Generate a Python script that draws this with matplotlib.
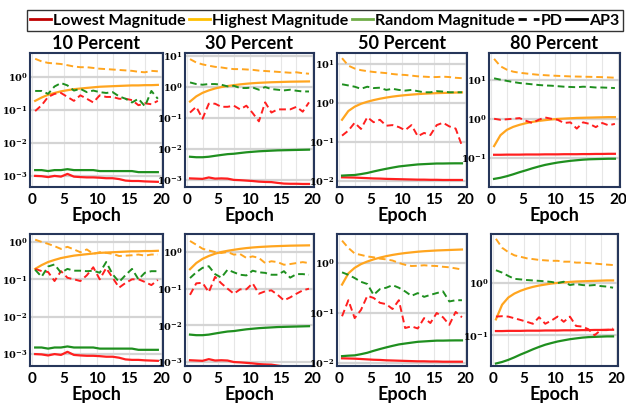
import matplotlib
matplotlib.use("Agg")
import matplotlib.pyplot as plt
from matplotlib.lines import Line2D
from matplotlib.ticker import FuncFormatter, LogLocator, MultipleLocator, NullFormatter
import numpy as np

plt.rcParams['font.family'] = ['Lato', 'DejaVu Sans']
plt.rcParams['mathtext.fontset'] = 'dejavuserif'

epochs = [0.5 + i for i in range(20)]
titles = ["10 Percent", "30 Percent", "50 Percent", "80 Percent"]

# ---- AP3 (solid) : shared by both rows ----
low_ap3_10 = [0.001, 0.00098, 0.00092, 0.001, 0.00095, 0.00115, 0.00095, 0.00092, 0.0009, 0.0009,
              0.00088, 0.00085, 0.00085, 0.0008, 0.00072, 0.0007, 0.0007, 0.00068, 0.00067, 0.00066]
high_ap3_10 = [0.19, 0.24, 0.29, 0.33, 0.37, 0.40, 0.43, 0.45, 0.47, 0.49,
               0.51, 0.52, 0.53, 0.54, 0.55, 0.56, 0.56, 0.57, 0.57, 0.58]
rand_ap3_10 = [0.0015, 0.0015, 0.0014, 0.0015, 0.0015, 0.0016, 0.0015, 0.0015, 0.0015, 0.0015,
               0.0014, 0.0014, 0.0014, 0.0014, 0.0014, 0.0014, 0.0013, 0.0013, 0.0013, 0.0013]

low_ap3_30 = [0.00112, 0.0011, 0.00108, 0.0012, 0.0011, 0.00112, 0.0011, 0.001, 0.00098, 0.00095,
              0.00092, 0.00088, 0.00086, 0.00085, 0.0008, 0.00076, 0.00075, 0.00075, 0.00074, 0.00074]
high_ap3_30 = [0.34, 0.5, 0.65, 0.78, 0.9, 1.0, 1.08, 1.15, 1.22, 1.28,
               1.33, 1.37, 1.40, 1.43, 1.45, 1.47, 1.49, 1.50, 1.51, 1.52]
rand_ap3_30 = [0.0056, 0.0054, 0.0054, 0.0056, 0.006, 0.0064, 0.0068, 0.007, 0.0074, 0.0078,
               0.0081, 0.0084, 0.0086, 0.0088, 0.009, 0.0091, 0.0092, 0.0093, 0.0094, 0.0095]

low_ap3_50 = [0.0124, 0.0123, 0.0122, 0.012, 0.0118, 0.0116, 0.0115, 0.0113, 0.0112, 0.0111,
              0.011, 0.0109, 0.0108, 0.0108, 0.0107, 0.0107, 0.0106, 0.0106, 0.0106, 0.0106]
high_ap3_50 = [0.37, 0.62, 0.8, 0.95, 1.07, 1.18, 1.28, 1.37, 1.45, 1.52,
               1.58, 1.63, 1.68, 1.72, 1.75, 1.78, 1.8, 1.82, 1.84, 1.86]
rand_ap3_50 = [0.0137, 0.014, 0.0142, 0.015, 0.016, 0.0175, 0.019, 0.0205, 0.022, 0.0235,
               0.0245, 0.0255, 0.0265, 0.027, 0.0275, 0.028, 0.028, 0.0282, 0.0283, 0.0283]

low_ap3_80 = [0.12, 0.12, 0.121, 0.121, 0.121, 0.122, 0.122, 0.122, 0.123, 0.123,
              0.123, 0.124, 0.124, 0.124, 0.125, 0.125, 0.126, 0.126, 0.127, 0.127]
high_ap3_80 = [0.2, 0.38, 0.52, 0.62, 0.7, 0.77, 0.83, 0.88, 0.92, 0.96,
               0.99, 1.01, 1.03, 1.05, 1.06, 1.07, 1.08, 1.09, 1.1, 1.1]
rand_ap3_80 = [0.029, 0.031, 0.034, 0.038, 0.043, 0.048, 0.054, 0.06, 0.066, 0.071,
               0.076, 0.08, 0.084, 0.087, 0.09, 0.092, 0.093, 0.094, 0.095, 0.095]

# ---- PD (dashed), top row ----
low_pd_top_10 = [0.093, 0.14, 0.25, 0.31, 0.33, 0.25, 0.19, 0.28, 0.22, 0.17,
                 0.28, 0.25, 0.25, 0.22, 0.22, 0.2, 0.14, 0.16, 0.15, 0.19]
high_pd_top_10 = [3.6, 3.0, 2.7, 2.6, 2.5, 2.3, 2.1, 2.0, 2.0, 1.9,
                  1.8, 1.75, 1.7, 1.65, 1.6, 1.55, 1.45, 1.4, 1.55, 1.5]
rand_pd_top_10 = [0.38, 0.38, 0.31, 0.52, 0.66, 0.56, 0.39, 0.44, 0.35, 0.39,
                  0.35, 0.33, 0.35, 0.26, 0.22, 0.17, 0.22, 0.13, 0.38, 0.22]

low_pd_top_30 = [0.15, 0.23, 0.095, 0.29, 0.29, 0.23, 0.23, 0.25, 0.19, 0.25,
                 0.145, 0.078, 0.32, 0.15, 0.19, 0.19, 0.19, 0.23, 0.16, 0.32]
high_pd_top_30 = [8.0, 6.2, 5.4, 4.9, 4.5, 4.3, 4.0, 3.8, 3.8, 3.7,
                  3.6, 3.4, 3.3, 3.2, 3.1, 3.0, 2.9, 3.0, 2.8, 2.7]
rand_pd_top_30 = [1.41, 1.25, 1.19, 1.25, 1.25, 1.19, 1.05, 1.1, 0.93, 0.93,
                  0.97, 0.82, 1.0, 0.86, 0.82, 0.78, 0.82, 0.76, 0.72, 0.72]

low_pd_top_50 = [0.145, 0.195, 0.31, 0.215, 0.43, 0.32, 0.37, 0.26, 0.27, 0.24,
                 0.2, 0.27, 0.14, 0.17, 0.15, 0.27, 0.31, 0.25, 0.22, 0.08]
high_pd_top_50 = [14, 9.0, 7.6, 6.9, 6.5, 6.2, 6.0, 5.8, 5.5, 5.3,
                  5.2, 5.0, 4.8, 4.7, 4.6, 4.6, 4.7, 4.6, 4.4, 4.3]
rand_pd_top_50 = [3.0, 2.8, 2.6, 2.3, 2.6, 2.4, 2.45, 2.15, 2.3, 2.15,
                  2.07, 2.15, 2.0, 1.87, 1.87, 2.0, 1.95, 1.87, 1.87, 1.87]

low_pd_top_80 = [1.0, 0.94, 0.97, 1.0, 1.04, 0.89, 0.78, 0.94, 1.08, 1.0,
                 0.94, 0.78, 0.81, 0.56, 0.81, 0.74, 0.61, 0.78, 0.68, 0.74]
high_pd_top_80 = [34, 22, 18, 16, 15, 14.4, 13.8, 13.3, 13.0, 12.7,
                  12.5, 12.3, 12.1, 12.0, 11.9, 11.8, 11.7, 11.6, 11.4, 11.2]
rand_pd_top_80 = [10.8, 10.0, 9.3, 8.7, 8.2, 7.9, 7.6, 7.3, 7.1, 7.0,
                  6.8, 6.6, 6.5, 6.4, 6.6, 6.5, 6.3, 6.3, 6.2, 6.1]

# ---- PD (dashed), bottom row ----
low_pd_bot_10 = [0.19, 0.166, 0.157, 0.09, 0.166, 0.11, 0.1, 0.09, 0.128, 0.21,
                 0.1, 0.2, 0.11, 0.06, 0.08, 0.1, 0.1, 0.085, 0.07, 0.096]
high_pd_bot_10 = [1.15, 1.0, 0.89, 0.77, 0.65, 0.74, 0.63, 0.53, 0.63, 0.48,
                  0.53, 0.51, 0.48, 0.42, 0.43, 0.44, 0.46, 0.43, 0.46, 0.46]
rand_pd_bot_10 = [0.18, 0.117, 0.22, 0.25, 0.15, 0.19, 0.17, 0.17, 0.165, 0.17,
                  0.15, 0.29, 0.136, 0.085, 0.13, 0.19, 0.1, 0.15, 0.165, 0.165]

low_pd_bot_30 = [0.068, 0.14, 0.145, 0.08, 0.21, 0.14, 0.1, 0.073, 0.096, 0.096,
                 0.14, 0.073, 0.085, 0.09, 0.068, 0.048, 0.058, 0.073, 0.09, 0.1]
high_pd_bot_30 = [2.0, 1.58, 1.23, 1.1, 1.0, 0.94, 1.0, 0.85, 0.88, 0.69,
                  0.76, 0.69, 0.5, 0.56, 0.53, 0.45, 0.47, 0.5, 0.53, 0.5]
rand_pd_bot_30 = [0.195, 0.28, 0.37, 0.41, 0.25, 0.2, 0.33, 0.28, 0.24, 0.23,
                  0.31, 0.28, 0.27, 0.24, 0.24, 0.3, 0.2, 0.25, 0.25, 0.24]

low_pd_bot_50 = [0.086, 0.18, 0.079, 0.115, 0.22, 0.2, 0.16, 0.15, 0.12, 0.18,
                 0.05, 0.054, 0.049, 0.079, 0.063, 0.1, 0.082, 0.058, 0.105, 0.082]
high_pd_bot_50 = [2.8, 2.0, 1.55, 1.45, 1.35, 1.3, 1.22, 1.18, 1.12, 1.0,
                  0.92, 0.87, 0.88, 0.9, 0.88, 0.87, 0.84, 0.82, 0.78, 0.74]
rand_pd_bot_50 = [0.65, 0.58, 0.5, 0.42, 0.38, 0.23, 0.3, 0.32, 0.36, 0.32,
                  0.27, 0.22, 0.25, 0.21, 0.23, 0.25, 0.27, 0.17, 0.18, 0.18]

low_pd_bot_80 = [0.226, 0.23, 0.226, 0.21, 0.195, 0.18, 0.165, 0.22, 0.165, 0.19,
                 0.226, 0.18, 0.226, 0.15, 0.146, 0.13, 0.1, 0.125, 0.125, 0.134]
high_pd_bot_80 = [6.8, 4.6, 3.8, 3.3, 3.1, 2.9, 2.8, 2.7, 2.65, 2.6,
                  2.6, 2.5, 2.5, 2.4, 2.4, 2.35, 2.3, 2.25, 2.2, 2.16]
rand_pd_bot_80 = [1.72, 1.55, 1.34, 1.18, 1.15, 1.12, 1.1, 1.08, 1.06, 1.03,
                  0.98, 1.04, 0.9, 0.94, 0.9, 0.88, 0.9, 0.86, 0.84, 0.8]

ap3 = [
    (low_ap3_10, high_ap3_10, rand_ap3_10),
    (low_ap3_30, high_ap3_30, rand_ap3_30),
    (low_ap3_50, high_ap3_50, rand_ap3_50),
    (low_ap3_80, high_ap3_80, rand_ap3_80),
]
pd_rows = [
    [(low_pd_top_10, high_pd_top_10, rand_pd_top_10),
     (low_pd_top_30, high_pd_top_30, rand_pd_top_30),
     (low_pd_top_50, high_pd_top_50, rand_pd_top_50),
     (low_pd_top_80, high_pd_top_80, rand_pd_top_80)],
    [(low_pd_bot_10, high_pd_bot_10, rand_pd_bot_10),
     (low_pd_bot_30, high_pd_bot_30, rand_pd_bot_30),
     (low_pd_bot_50, high_pd_bot_50, rand_pd_bot_50),
     (low_pd_bot_80, high_pd_bot_80, rand_pd_bot_80)],
]

ylims = [
    [(4.6e-4, 5.4), (5.9e-4, 12.6), (7.0e-3, 19), (0.018, 48)],
    [(4.8e-4, 1.63), (7.8e-4, 3.1), (8.7e-3, 3.8), (0.026, 8.4)],
]

W, H = 626, 405
col_x = [(30, 163), (185, 314), (337, 467), (489, 620)]
col_x_bot = [(30, 163), (185, 314), (337, 467), (491, 618)]
row_y = [(53, 187), (234, 366)]

colors = ['#ff1f1f', '#ffa51f', '#1f8f1f']
spine_col = '#26365a'

fig = plt.figure(figsize=(W / 100, H / 100), dpi=100)

for r in range(2):
    for c in range(4):
        x0, x1 = (col_x if r == 0 else col_x_bot)[c]
        y0, y1 = row_y[r]
        ax = fig.add_axes([x0 / W, 1 - y1 / H, (x1 - x0) / W, (y1 - y0) / H])
        ax.set_yscale('log')
        ax.set_xlim(-0.3, 20.3)
        ax.set_ylim(*ylims[r][c])
        ax.xaxis.set_major_locator(MultipleLocator(5))
        ax.xaxis.set_minor_locator(MultipleLocator(2.5))
        ax.yaxis.set_major_locator(LogLocator(base=10, numticks=10))
        ax.yaxis.set_minor_formatter(NullFormatter())
        ax.yaxis.set_major_formatter(FuncFormatter(lambda v, p: r'$\mathbf{10^{%d}}$' % round(np.log10(v))))
        ax.grid(True, which='major', axis='y', color='#d4d4d4', lw=1.6)
        ax.grid(True, which='both', axis='x', color='#e6e6e6', lw=0.8)
        ax.set_axisbelow(True)
        ax.tick_params(which='both', length=0)
        ax.tick_params(axis='x', labelsize=11, pad=4)
        ax.tick_params(axis='y', labelsize=7, pad=1.5)
        for lab in ax.get_xticklabels():
            lab.set_fontweight('bold')
        for s in ax.spines.values():
            s.set_color(spine_col)
            s.set_linewidth(1.5)

        for series, col in zip(ap3[c], colors):
            ax.plot(epochs, series, color=col, lw=1.6, ls='-')
        for series, col in zip(pd_rows[r][c], colors):
            ax.plot(epochs, series, color=col, lw=1.4, ls=(0, (3.5, 2)))

        ax.set_xlabel('Epoch', fontsize=13, fontweight='bold', labelpad=0)
        if r == 0:
            ax.set_title(titles[c], fontsize=13, fontweight='bold', pad=3)

handles = [
    Line2D([], [], color='#c00000', lw=2),
    Line2D([], [], color='#ffc000', lw=2),
    Line2D([], [], color='#70ad47', lw=2),
    Line2D([], [], color='black', lw=2, ls=(0, (3, 2.5))),
    Line2D([], [], color='black', lw=2),
]
labels = ['Lowest Magnitude', 'Highest Magnitude', 'Random Magnitude', 'PD', 'AP3']
leg = fig.legend(handles, labels, loc='lower left',
                 bbox_to_anchor=(27 / W, 1 - 31 / H, 596 / W, 24 / H), mode='expand', ncol=5,
                 frameon=True, fancybox=False, edgecolor='black', handlelength=1.3,
                 handletextpad=0.15, columnspacing=0.5, borderpad=0.2, borderaxespad=0,
                 prop={'family': ['Lato', 'DejaVu Sans'], 'weight': 'bold', 'size': 11.5})
leg.get_frame().set_linewidth(1.0)

fig.savefig('out.png', dpi=100)
